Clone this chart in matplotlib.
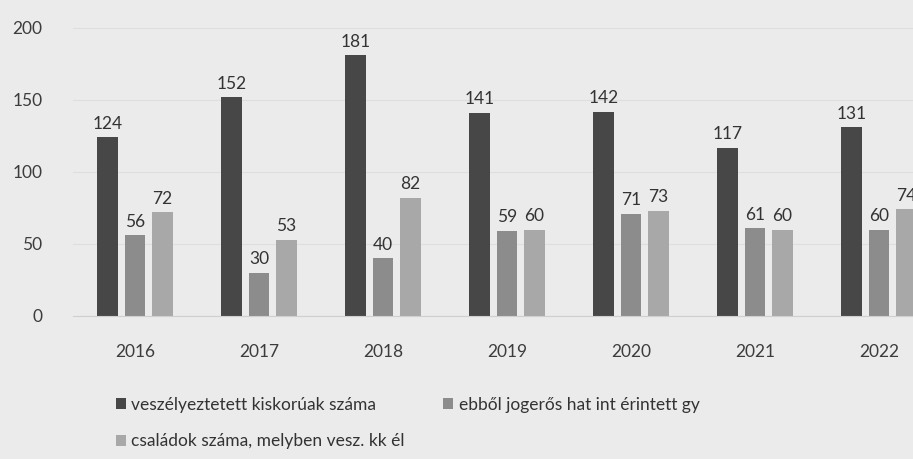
import matplotlib.pyplot as plt
import numpy as np

years = ["2016", "2017", "2018", "2019", "2020", "2021", "2022"]
veszelyeztetett = [124, 152, 181, 141, 142, 117, 131]
jogeros = [56, 30, 40, 59, 71, 61, 60]
csaladok = [72, 53, 82, 60, 73, 60, 74]

labels = [
    "veszélyeztetett kiskorúak száma",
    "ebből jogerős hat int érintett gy",
    "családok száma, melyben vesz. kk él",
]
colors = ["#474747", "#8c8c8c", "#a8a8a8"]
bg = "#ebebeb"

plt.rcParams["font.family"] = ["Lato", "DejaVu Sans"]

fig = plt.figure(figsize=(9.13, 4.59), dpi=100, facecolor=bg)
# plot area runs past the right edge (the scan is cropped)
ax = fig.add_axes([73 / 913, 143 / 459, 868 / 913, 288 / 459], facecolor=bg)

x = np.arange(len(years))
w = 0.165
step = 0.222
bars = []
for i, (vals, c) in enumerate(zip([veszelyeztetett, jogeros, csaladok], colors)):
    b = ax.bar(x + (i - 1) * step, vals, width=w, color=c, label=labels[i], zorder=2)
    ax.bar_label(b, padding=4, fontsize=12.5, color="#333333")
    bars.append(b)

ax.set_xlim(-0.5, len(years) - 0.5)
ax.set_ylim(0, 200)
ax.set_yticks([0, 50, 100, 150, 200])
ax.set_xticks(x)
ax.set_xticklabels(years)
ax.tick_params(axis="both", length=0, labelsize=12.5, labelcolor="#3c3c3c")
ax.tick_params(axis="x", pad=20)
ax.tick_params(axis="y", pad=22)
ax.yaxis.grid(True, color="#dedede", linewidth=0.8, zorder=0)
for s in ["top", "right", "left"]:
    ax.spines[s].set_visible(False)
ax.spines["bottom"].set_color("#cfcfcf")

handles = [bars[0], bars[2], bars[1]]
fig.legend(handles, [labels[0], labels[2], labels[1]], ncol=2,
           loc="upper left", bbox_to_anchor=(100 / 913, 1 - 381 / 459),
           frameon=False, fontsize=12.5, handlelength=0.6, handleheight=0.6,
           handletextpad=0.3, columnspacing=2.2, labelspacing=1.2,
           labelcolor="#333333")

fig.savefig("out.png", dpi=100, facecolor=bg)
